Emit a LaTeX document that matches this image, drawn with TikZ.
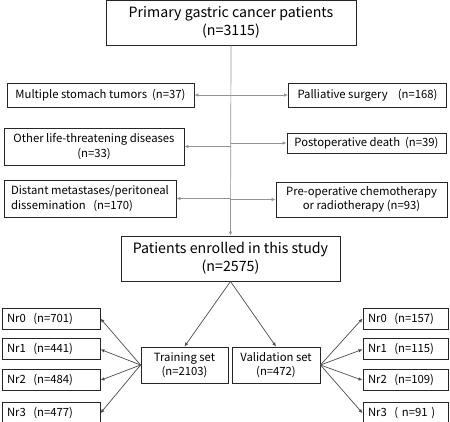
\documentclass[tikz,border=0pt]{standalone}
\usepackage{fontspec}
\setmainfont{Noto Sans CJK SC}
\usetikzlibrary{arrows.meta, positioning, calc}

\begin{document}
\begin{tikzpicture}[
  x=1pt, y=-1pt,
  node distance=9pt,
  box/.style={rectangle, draw=black!85, line width=0.9pt, align=center,
              inner sep=2pt, font=\fontsize{11.3}{14.5}\selectfont},
  bigbox/.style={box, font=\fontsize{14.2}{18}\selectfont},
  nrbox/.style={box, minimum height=21pt, align=left, inner xsep=5pt},
  arr/.style={-{Latex[length=4pt,width=3.5pt]}, draw=gray!85, line width=0.7pt},
  darr/.style={arr, draw=black!70},
]
  \useasboundingbox (0,0) rectangle (450,422);

  % screening
  \node[bigbox, minimum width=250pt, minimum height=45pt] (top) at (231,22.5)
    {Primary gastric cancer patients\\(n=3115)};
  \node[box, minimum width=187pt, minimum height=24pt] (mst) at (100.5,95)
    {Multiple stomach tumors\ \ (n=37)};
  \node[box, minimum width=158pt, minimum height=24pt] (pal) at (367.5,95)
    {Palliative surgery\ \ \ \ (n=168)};
  \node[box, minimum width=180pt, minimum height=37pt] (oth) at (94,146.5)
    {Other life-threatening diseases\\(n=33)};
  \node[box, minimum width=159pt, minimum height=20pt] (pod) at (366.5,143)
    {Postoperative death\ \ (n=39)};
  \node[box, minimum width=172pt, minimum height=37pt, align=left] (dis) at (90,198.5)
    {Distant metastases/peritoneal\\dissemination\ \ \ (n=170)};
  \node[box, minimum width=171pt, minimum height=35pt] (pre) at (361.5,199.5)
    {Pre-operative chemotherapy\\or radiotherapy (n=93)};
  \node[bigbox, minimum width=219pt, minimum height=45pt] (enr) at (230.5,258.5)
    {Patients enrolled in this study\\(n=2575)};

  \draw[arr] (top.south) -- (enr.north);
  \draw[arr] (top.south |- mst.east) -- (mst.east);
  \draw[arr] (top.south |- pal.west) -- (pal.west);
  \draw[arr] (top.south |- oth.east) -- (oth.east);
  \draw[arr] (top.south |- pod.west) -- (pod.west);
  \draw[arr] (top.south |- dis.east) -- (dis.east);
  \draw[arr] (top.south |- pre.west) -- (pre.west);

  % split
  \node[box, minimum width=87pt, minimum height=36pt] (trn) at (184.5,365)
    {Training set\\(n=2103)};
  \node[box, minimum width=88pt, minimum height=36pt] (val) at (276,365)
    {Validation set\\(n=472)};
  \draw[darr] (enr.south) -- (trn.north);
  \draw[darr] (enr.south) -- (val.north);

  % nodal stages, training
  \node[nrbox, minimum width=98pt, text width=88pt] (tn0) at (51,318.5) {Nr0\ \ (n=701)};
  \node[nrbox, minimum width=98pt, text width=88pt, below=of tn0] (tn1) {Nr1\ \ (n=441)};
  \node[nrbox, minimum width=98pt, text width=88pt, below=of tn1] (tn2) {Nr2\ \ (n=484)};
  \node[nrbox, minimum width=98pt, text width=88pt, below=11pt of tn2] (tn3) {Nr3\ \ (n=477)};

  % nodal stages, validation
  \node[nrbox, minimum width=85pt, text width=75pt] (vn0) at (405.5,318.5) {Nr0\ \ (n=157)};
  \node[nrbox, minimum width=85pt, text width=75pt, below=of vn0] (vn1) {Nr1\ \ (n=115)};
  \node[nrbox, minimum width=85pt, text width=75pt, below=of vn1] (vn2) {Nr2\ \ (n=109)};
  \node[nrbox, minimum width=85pt, text width=75pt, below=11pt of vn2] (vn3) {Nr3\ \ ( n=91 )};

  \foreach \i in {0,...,3} {
    \draw[darr] (trn.west) -- (tn\i.east);
    \draw[darr] (val.east) -- (vn\i.west);
  }
\end{tikzpicture}
\end{document}
